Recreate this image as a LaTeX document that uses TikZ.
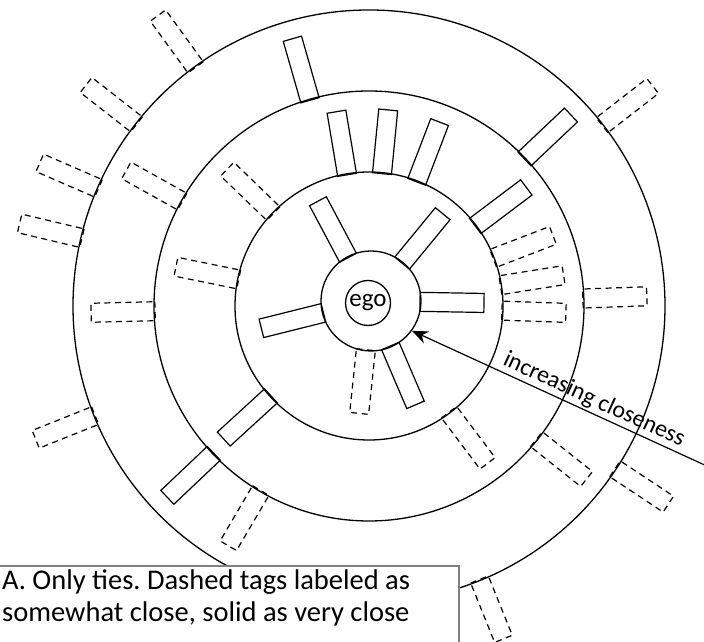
\documentclass[tikz,border=0pt]{standalone}
\usepackage{fontspec}
\setmainfont{Carlito}
\usetikzlibrary{arrows.meta}

\tikzset{
    ring/.style={draw, circle, line width=1.3pt, inner sep=0pt},
    tietag/.style={line width=1.2pt},
    somewhat/.style={tietag, dash pattern=on 6pt off 4.5pt},
}

% one tag on a ring: [style]{centre}{radius}{angle}
\newcommand{\tietag}[4][]{
    \begin{scope}[shift={(#2)}, rotate=#4]
        \draw[tietag, #1] (#3-1, -9.5) rectangle ++(64, 19);
    \end{scope}
}

\begin{document}
\frenchspacing
\begin{tikzpicture}[x=1pt, y=1pt]
    \useasboundingbox (0,0) rectangle (704,642);

    \coordinate (c) at (369,336);

    \draw[line width=1.3pt] (c) circle (296);
    \draw[line width=1.3pt] (c) circle (215);
    \draw[line width=1.3pt] (c) circle (134);

    \node[ring, minimum size=100pt] (core) at (371,341) {};
    \node[ring, minimum size=45pt, font=\fontsize{25}{28}\selectfont] (ego) at (368,339) {ego};

    % very close ties
    \foreach \a in {118, 50.6, -1, -66.8, 194} \tietag{core}{50}{\a};
    \foreach \a in {99.5, 84.4, 69, 37, 222.5} \tietag{c}{134}{\a};
    \foreach \a in {106, 43.4, 223.5} \tietag{c}{215}{\a};

    % somewhat close ties
    \tietag[somewhat]{core}{50}{-96};
    \foreach \a in {21, 9, -2, -53, 168.5, 136} \tietag[somewhat]{c}{134}{\a};
    \foreach \a in {2, -38.5, 239.6, 181.4, 150.8} \tietag[somewhat]{c}{215}{\a};
    \foreach \a in {126, 142, 156.5, 166.7, 201.8, -68, -33.5, 37.8} \tietag[somewhat]{c}{296}{\a};

    \coordinate (start) at (722,169);
    \draw[line width=1.2pt, -{Stealth[length=16pt, width=13pt]}] (start) -- (core.-36)
        node[pos=0.43, sloped, above, inner sep=2pt, font=\fontsize{24}{28}\selectfont] (closeness) {increasing closeness};

    \draw[gray, line width=1.6pt, fill=white] (-2,76) rectangle (459,-1);
    \node[anchor=north west, align=left, inner sep=0pt, font=\fontsize{28.5}{32}\selectfont] (caption) at (2,72)
        {A. Only ties. Dashed tags labeled as\\somewhat close, solid as very close};
\end{tikzpicture}
\end{document}
